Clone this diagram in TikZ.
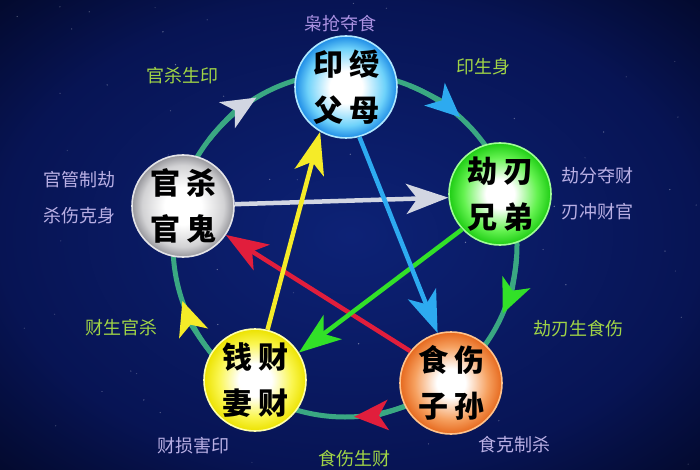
\documentclass[tikz,border=0pt]{standalone}
\usepackage{fontspec}
\newfontfamily\cjk{Noto Sans CJK SC}
\usetikzlibrary{arrows.meta}
\definecolor{bgin}{RGB}{13,34,118}
\definecolor{bgmid}{RGB}{7,20,84}
\definecolor{bgout}{RGB}{3,9,44}
\definecolor{ringc}{RGB}{58,168,130}
\definecolor{cyanM}{RGB}{110,210,250}
\definecolor{cyanD}{RGB}{30,140,230}
\definecolor{cyanR}{RGB}{175,232,255}
\definecolor{grayM}{RGB}{210,210,212}
\definecolor{grayD}{RGB}{150,150,155}
\definecolor{grayR}{RGB}{228,228,232}
\definecolor{greenM}{RGB}{100,242,80}
\definecolor{greenD}{RGB}{30,205,20}
\definecolor{greenR}{RGB}{160,255,150}
\definecolor{yelM}{RGB}{250,246,80}
\definecolor{yelD}{RGB}{236,226,0}
\definecolor{yelR}{RGB}{255,255,170}
\definecolor{orM}{RGB}{246,160,95}
\definecolor{orD}{RGB}{230,105,30}
\definecolor{orR}{RGB}{255,195,140}
\definecolor{lgreen}{RGB}{160,212,70}
\definecolor{lpurple}{RGB}{185,175,228}
\definecolor{tpurple}{RGB}{170,145,225}
\definecolor{agray}{RGB}{210,214,226}
\definecolor{ablue}{RGB}{45,170,240}
\definecolor{agreen}{RGB}{50,225,40}
\definecolor{ared}{RGB}{225,30,60}
\definecolor{ayellow}{RGB}{245,235,40}
\pgfdeclareradialshading{bgshade}{\pgfpointorigin}{color(0bp)=(bgin); color(25bp)=(bgmid); color(36bp)=(bgout); color(50bp)=(bgout)}
\pgfdeclareradialshading{ballcyan}{\pgfpointorigin}{color(0bp)=(white); color(8bp)=(white); color(19bp)=(cyanM); color(25bp)=(cyanD); color(50bp)=(cyanD)}
\pgfdeclareradialshading{ballgray}{\pgfpointorigin}{color(0bp)=(white); color(9bp)=(white); color(20bp)=(grayM); color(25bp)=(grayD); color(50bp)=(grayD)}
\pgfdeclareradialshading{ballgreen}{\pgfpointorigin}{color(0bp)=(white); color(7bp)=(white); color(18bp)=(greenM); color(25bp)=(greenD); color(50bp)=(greenD)}
\pgfdeclareradialshading{ballyel}{\pgfpointorigin}{color(0bp)=(white); color(8bp)=(white); color(18bp)=(yelM); color(25bp)=(yelD); color(50bp)=(yelD)}
\pgfdeclareradialshading{ballor}{\pgfpointorigin}{color(0bp)=(white); color(7bp)=(white); color(18bp)=(orM); color(25bp)=(orD); color(50bp)=(orD)}
\tikzset{
  ball/.style={circle, minimum size=102pt, inner sep=0pt, line width=1.6pt, align=center, text=black,
    font=\cjk\bfseries\fontsize{30}{46}\selectfont},
  ringline/.style={draw=ringc, line width=5pt},
  ringtip/.style={draw=ringc, line width=5pt, -{Stealth[length=34pt,width=30pt,inset=9pt,color=#1]}},
  starline/.style={draw=#1, line width=4.5pt, -{Stealth[length=42pt,width=30pt,inset=11pt]}},
  glabel/.style={text=lgreen, font=\cjk\fontsize{18}{22}\selectfont},
  plabel/.style={text=lpurple, font=\cjk\fontsize{18}{36}\selectfont, align=center},
}
\begin{document}
\begin{tikzpicture}[x=1pt,y=-1pt]
\useasboundingbox (0,0) rectangle (700,470);
\shade[shading=bgshade] (0,0) rectangle (700,470);
\pgfmathsetseed{42}
\foreach \i in {1,...,70}{
  \pgfmathsetmacro{\sx}{rnd*700}
  \pgfmathsetmacro{\sy}{rnd*470}
  \pgfmathsetmacro{\so}{0.12+0.3*rnd}
  \fill[white, opacity=\so] (\sx,\sy) circle[radius=0.7pt];
}
% ring
\coordinate (C) at (345,245);
\draw[ringline] (C) circle[radius=172];
\draw[ringtip=agray] (C) ++(-142:172) arc[start angle=-142, end angle=-121, radius=172];
\draw[ringtip=ablue] (C) ++(-68:172) arc[start angle=-68, end angle=-48, radius=172];
\draw[ringtip=agreen] (C) ++(4:172) arc[start angle=4, end angle=23.5, radius=172];
\draw[ringtip=ared] (C) ++(67:172) arc[start angle=67, end angle=87, radius=172];
\draw[ringtip=ayellow] (C) ++(140:172) arc[start angle=140, end angle=161, radius=172];
% circles
\node[ball, shading=ballcyan, draw=cyanR] (yin) at (346,87) {印\hspace{6pt}绶\\父\hspace{6pt}母};
\node[ball, shading=ballgray, draw=grayR] (guan) at (183,206) {官\hspace{6pt}杀\\官\hspace{6pt}鬼};
\node[ball, shading=ballgreen, draw=greenR] (jie) at (500,194) {劫\hspace{6pt}刃\\兄\hspace{6pt}弟};
\node[ball, shading=ballyel, draw=yelR] (cai) at (255,380) {钱\hspace{6pt}财\\妻\hspace{6pt}财};
\node[ball, shading=ballor, draw=orR] (shi) at (451,383) {食\hspace{6pt}伤\\子\hspace{6pt}孙};
% star
\draw[starline=agray] (guan.2) -- (jie.184);
\draw[starline=ared] (shi.142) -- (guan.-34);
\draw[starline=agreen] (jie.223) -- (cai.32);
\draw[starline=ablue] (yin.-75) -- (shi.105);
\draw[starline=ayellow] (cai.76) -- (yin.240);
% labels
\node[text=tpurple, font=\cjk\fontsize{18}{22}\selectfont] (t1) at (340,24) {枭抢夺食};
\node[glabel] (l1) at (182,76) {官杀生印};
\node[glabel] (l2) at (483,67) {印生身};
\node[plabel] (l3) at (79,198) {官管制劫\\杀伤克身};
\node[plabel] (l4) at (597,194) {劫分夺财\\刃冲财官};
\node[glabel] (l5) at (121,328) {财生官杀};
\node[glabel] (l6) at (578,329) {劫刃生食伤};
\node[plabel] (l7) at (514,445) {食克制杀};
\node[plabel] (l8) at (193,446) {财损害印};
\node[glabel] (l9) at (354,459) {食伤生财};
\end{tikzpicture}
\end{document}
